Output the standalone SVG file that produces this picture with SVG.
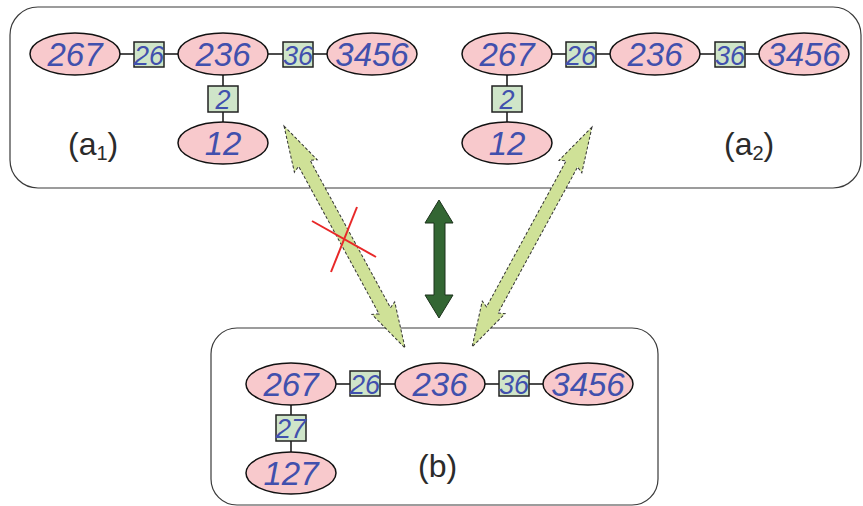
<svg xmlns="http://www.w3.org/2000/svg" width="863" height="506" viewBox="0 0 863 506">
<style>
.frame{fill:#fff;stroke:#3a3a3a;stroke-width:1.2}
.el{fill:#f8c9cc;stroke:#111;stroke-width:1.5}
.sq{fill:#cfe5c9;stroke:#222;stroke-width:1.5}
.lt{font-family:"Liberation Sans",Arial,sans-serif;font-style:italic;fill:#4150ad;text-anchor:middle}
.big{font-size:33px}
.small{font-size:27px}
.lab{font-family:"Liberation Sans",Arial,sans-serif;font-size:32px;fill:#2b2b2b}
.sub{font-size:20px}
.con{stroke:#111;stroke-width:1.5;fill:none}
.la{fill:#cfe197;stroke:#333;stroke-width:1;stroke-dasharray:3 2}
.da{fill:#336633;stroke:#1c331c;stroke-width:1}
.x{stroke:#e82828;stroke-width:2}
</style>
<defs>
<polygon id="dbl" points="0,0 45,-13 42,-6.5 208,-6.5 205,-13 250,0 205,13 208,6.5 42,6.5 45,13"/>
</defs>
<rect class="frame" x="10" y="7" width="851" height="181" rx="28"/>
<rect class="frame" x="211" y="328" width="447" height="177" rx="26"/>

<g id="connectors">
<line class="con" x1="120" y1="54" x2="134" y2="54"/>
<line class="con" x1="164" y1="54" x2="178" y2="54"/>
<line class="con" x1="268" y1="54" x2="283" y2="54"/>
<line class="con" x1="313" y1="54" x2="327" y2="54"/>
<line class="con" x1="223" y1="75" x2="223" y2="86"/>
<line class="con" x1="223" y1="112" x2="223" y2="122"/>
<line class="con" x1="552" y1="54" x2="566" y2="54"/>
<line class="con" x1="596" y1="54" x2="610" y2="54"/>
<line class="con" x1="700" y1="54" x2="715" y2="54"/>
<line class="con" x1="745" y1="54" x2="759" y2="54"/>
<line class="con" x1="507" y1="75" x2="507" y2="86"/>
<line class="con" x1="507" y1="112" x2="507" y2="122"/>
<line class="con" x1="336" y1="384" x2="350" y2="384"/>
<line class="con" x1="380" y1="384" x2="395" y2="384"/>
<line class="con" x1="485" y1="384" x2="499" y2="384"/>
<line class="con" x1="529" y1="384" x2="543" y2="384"/>
<line class="con" x1="291" y1="405" x2="291" y2="415"/>
<line class="con" x1="291" y1="441" x2="291" y2="452"/>
</g>

<g id="a1-267"><ellipse class="el" cx="75" cy="54" rx="45" ry="21"/><text class="lt big" x="75" y="66">267</text></g>
<g id="a1-26"><rect class="sq" x="134" y="42" width="30" height="25"/><text class="lt small" x="149" y="65">26</text></g>
<g id="a1-236"><ellipse class="el" cx="223" cy="54" rx="45" ry="21"/><text class="lt big" x="223" y="66">236</text></g>
<g id="a1-36"><rect class="sq" x="283" y="42" width="30" height="25"/><text class="lt small" x="298" y="65">36</text></g>
<g id="a1-3456"><ellipse class="el" cx="372" cy="54" rx="45" ry="21"/><text class="lt big" x="372" y="66">3456</text></g>
<g id="a1-2"><rect class="sq" x="208" y="86" width="30" height="26"/><text class="lt small" x="223" y="109">2</text></g>
<g id="a1-12"><ellipse class="el" cx="223" cy="143" rx="45" ry="21"/><text class="lt big" x="223" y="155">12</text></g>

<g id="a2-267"><ellipse class="el" cx="507" cy="54" rx="45" ry="21"/><text class="lt big" x="507" y="66">267</text></g>
<g id="a2-26"><rect class="sq" x="566" y="42" width="30" height="25"/><text class="lt small" x="581" y="65">26</text></g>
<g id="a2-236"><ellipse class="el" cx="655" cy="54" rx="45" ry="21"/><text class="lt big" x="655" y="66">236</text></g>
<g id="a2-36"><rect class="sq" x="715" y="42" width="30" height="25"/><text class="lt small" x="730" y="65">36</text></g>
<g id="a2-3456"><ellipse class="el" cx="804" cy="54" rx="45" ry="21"/><text class="lt big" x="804" y="66">3456</text></g>
<g id="a2-2"><rect class="sq" x="492" y="86" width="30" height="26"/><text class="lt small" x="507" y="109">2</text></g>
<g id="a2-12"><ellipse class="el" cx="507" cy="143" rx="45" ry="21"/><text class="lt big" x="507" y="155">12</text></g>

<g id="b-267"><ellipse class="el" cx="291" cy="384" rx="45" ry="21"/><text class="lt big" x="291" y="396">267</text></g>
<g id="b-26"><rect class="sq" x="350" y="371" width="30" height="25"/><text class="lt small" x="365" y="394">26</text></g>
<g id="b-236"><ellipse class="el" cx="440" cy="384" rx="45" ry="21"/><text class="lt big" x="440" y="396">236</text></g>
<g id="b-36"><rect class="sq" x="499" y="371" width="30" height="25"/><text class="lt small" x="514" y="394">36</text></g>
<g id="b-3456"><ellipse class="el" cx="588" cy="384" rx="45" ry="21"/><text class="lt big" x="588" y="396">3456</text></g>
<g id="b-27"><rect class="sq" x="276" y="415" width="30" height="26"/><text class="lt small" x="291" y="438">27</text></g>
<g id="b-127"><ellipse class="el" cx="291" cy="473" rx="45" ry="21"/><text class="lt big" x="291" y="485">127</text></g>

<text class="lab" x="68" y="155">(a<tspan class="sub" dy="5">1</tspan><tspan dy="-5">)</tspan></text>
<text class="lab" x="724" y="155">(a<tspan class="sub" dy="5">2</tspan><tspan dy="-5">)</tspan></text>
<text class="lab" x="418" y="477">(b)</text>

<g id="arrows">
<use href="#dbl" class="la" transform="translate(284,126) rotate(61.4) scale(1.012,1)"/>
<use href="#dbl" class="la" transform="translate(592,127) rotate(118.6) scale(1.002,1)"/>
<polygon class="da" points="439,200 453,223 445,223 445,295 453,295 439,318 425,295 434,295 434,223 425,223"/>
</g>
<g id="cross">
<line class="x" x1="312" y1="221" x2="376" y2="257"/>
<line class="x" x1="357" y1="207" x2="331" y2="272"/>
</g>
</svg>
